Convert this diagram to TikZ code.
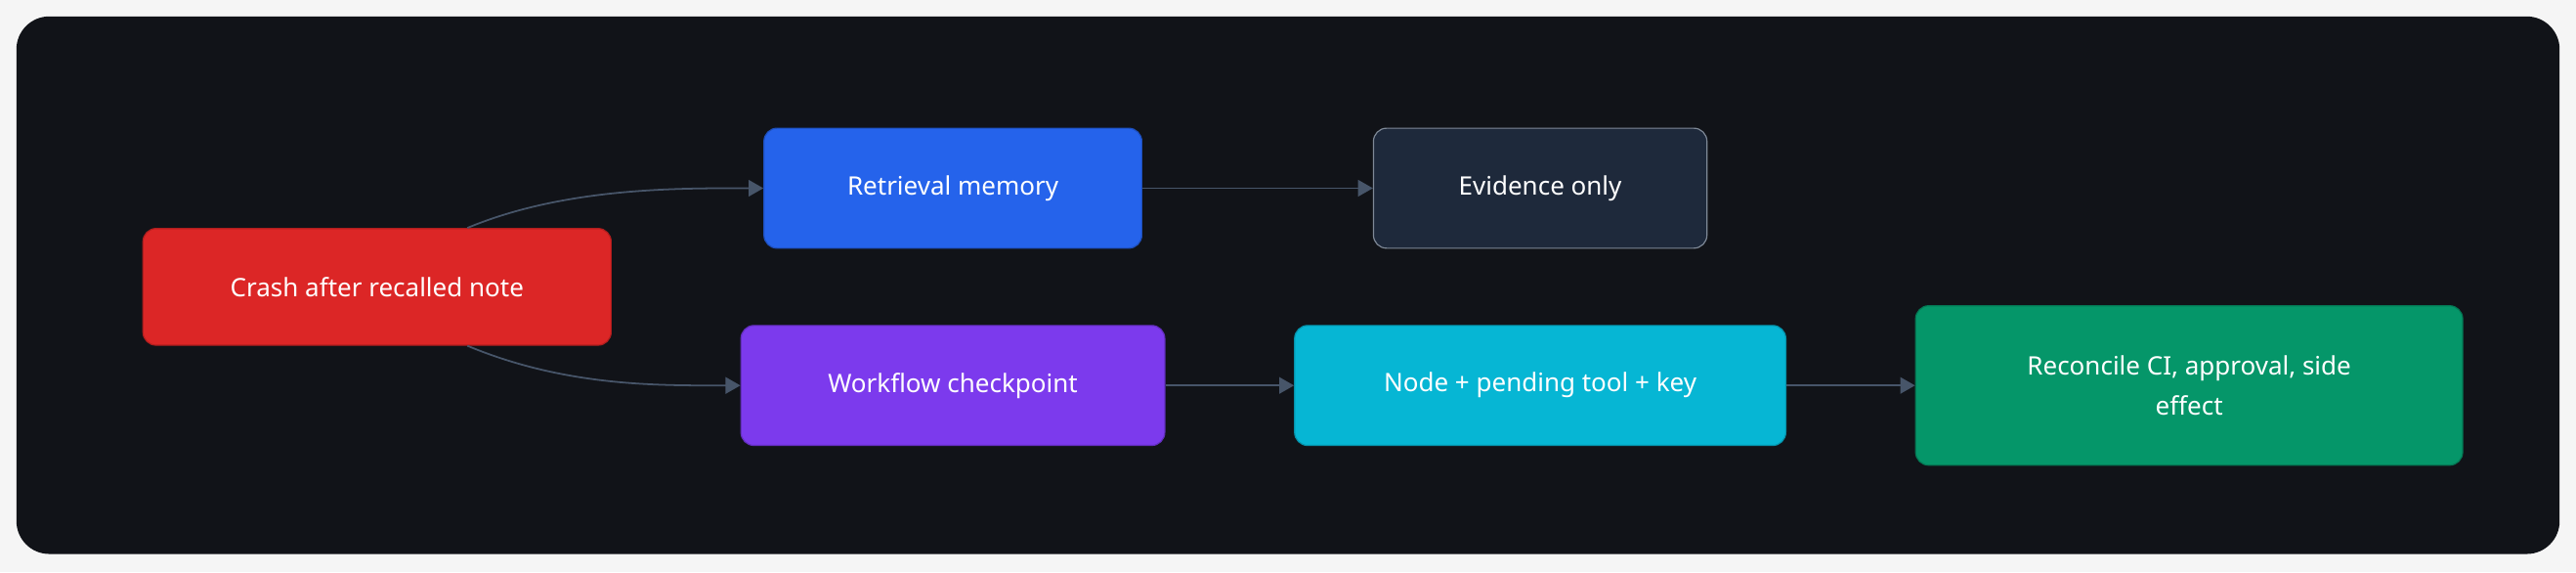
\documentclass[tikz,border=0pt]{standalone}
\usepackage{fontspec}
\setmainfont{Noto Sans}
\usetikzlibrary{arrows.meta, positioning}

\definecolor{panelbg}{HTML}{111318}
\definecolor{edgegray}{HTML}{475569}
\definecolor{crashred}{HTML}{DC2626}
\definecolor{memblue}{HTML}{2563EB}
\definecolor{evidslate}{HTML}{1E293B}
\definecolor{flowpurple}{HTML}{7C3AED}
\definecolor{nodecyan}{HTML}{06B6D4}
\definecolor{recgreen}{HTML}{059669}

\tikzset{
  box/.style={rounded corners=0.16cm, draw=#1!80!black, fill=#1, text=white, align=center,
    font=\fontsize{8.8}{14}\selectfont, minimum height=1.46cm, inner sep=0pt},
  flow/.style={draw=edgegray, line width=0.6pt, -{Triangle[length=0.18cm, width=0.2cm]}}
}

\begin{document}
\begin{tikzpicture}
\useasboundingbox (0,0) rectangle (31.36,6.96);
\fill[white!96!black] (0,0) rectangle (31.36,6.96);
\fill[panelbg, rounded corners=0.4cm] (0.2,0.22) rectangle (31.16,6.76);

\node[box=crashred, minimum width=5.7cm, minimum height=1.42cm] (crash) at (4.59,3.47) {Crash after recalled note};
\node[box=memblue, minimum width=4.6cm] (memory) at (11.6,4.67) {Retrieval memory};
\node[box=evidslate, draw=edgegray!70, minimum width=4.06cm] (evidence) at (18.75,4.67) {Evidence only};
\node[box=flowpurple, minimum width=5.16cm] (checkpoint) at (11.6,2.27) {Workflow checkpoint};
\node[box=nodecyan, minimum width=5.98cm] (pending) at (18.75,2.27) {Node + pending tool + key};
\node[box=recgreen, minimum width=6.66cm, minimum height=1.94cm] (reconcile) at (26.65,2.27) {Reconcile CI, approval, side\\effect};

\draw[flow] ([xshift=1.1cm]crash.north) .. controls +(1.2,0.5) and +(-1.0,0) .. (memory.west);
\draw[flow] ([xshift=1.1cm]crash.south) .. controls +(1.2,-0.5) and +(-1.0,0) .. (checkpoint.west);
\draw[flow] (memory) -- (evidence);
\draw[flow] (checkpoint) -- (pending);
\draw[flow] (pending) -- (reconcile);
\end{tikzpicture}
\end{document}
